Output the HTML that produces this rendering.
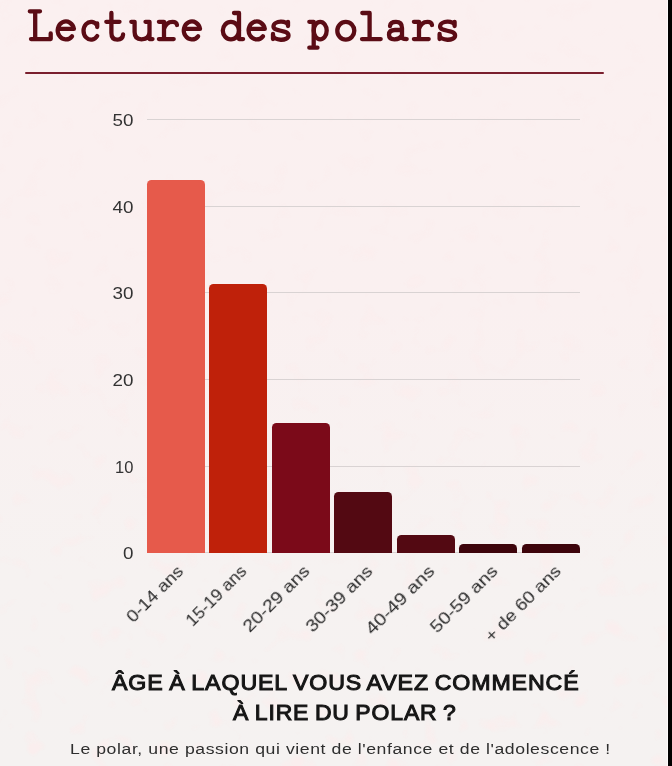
<!DOCTYPE html>
<html><head><meta charset="utf-8">
<style>
html,body{margin:0;padding:0;}
body{width:672px;height:766px;overflow:hidden;position:relative;background:linear-gradient(180deg,#fbf0f0 0%,#faf0f0 40%,#f6f2f1 75%,#f5f2f1 100%);font-family:"Liberation Sans",sans-serif;}
#strip{position:absolute;left:668px;top:0;width:4px;height:766px;background:#000;}

#rule{position:absolute;left:24.7px;top:71.6px;width:579.4px;height:2px;background:#7a1f2e;border-radius:1px;}
.grid{position:absolute;left:146.5px;width:433.5px;height:1px;background:#d9d3d3;}
.yl{position:absolute;left:90px;width:43.4px;text-align:right;font-size:16.5px;color:#333;line-height:16px;transform:scaleX(1.14);transform-origin:100% 50%;will-change:transform;}
.bar{position:absolute;width:58px;border-radius:4.5px 4.5px 0 0;}
.xl{position:absolute;font-size:16.5px;color:#2b2b2b;white-space:nowrap;transform-origin:100% 50%;text-align:right;line-height:16px;will-change:transform;}
.h{position:absolute;white-space:nowrap;font-size:21.2px;line-height:24px;color:#151515;-webkit-text-stroke:1px #151515;letter-spacing:0.8px;word-spacing:-1.5px;transform-origin:0 50%;will-change:transform;}
#sub{position:absolute;white-space:nowrap;left:70px;top:740px;font-size:15.5px;color:#2e2e2e;line-height:18px;letter-spacing:0.51px;transform:scaleX(1.137);transform-origin:0 50%;will-change:transform;}
</style></head><body>
<svg width="668" height="766" style="position:absolute;left:0;top:0"><defs>
<filter id="nz" x="0" y="0" width="100%" height="100%" color-interpolation-filters="sRGB"><feTurbulence type="fractalNoise" baseFrequency="0.045" numOctaves="2" seed="11"/><feColorMatrix type="matrix" values="0 0 0 0 1  0 0 0 0 0.92  0 0 0 0 0.92  5 0 0 0 -3.0"/></filter>
<linearGradient id="fade" x1="0" y1="0" x2="0" y2="1"><stop offset="0" stop-color="#fff" stop-opacity="0.12"/><stop offset="0.5" stop-color="#fff" stop-opacity="0.3"/><stop offset="1" stop-color="#fff" stop-opacity="0.5"/></linearGradient>
<mask id="mk"><rect width="668" height="766" fill="url(#fade)"/></mask></defs>
<g mask="url(#mk)"><rect width="668" height="766" filter="url(#nz)"/></g></svg>
<div id="strip"></div><div style="position:absolute;left:667px;top:0;width:1px;height:766px;background:#fdfbfb"></div>
<svg id="title" width="672" height="60" viewBox="0 0 672 60" style="position:absolute;left:0;top:0" fill="none" stroke="#5b0c15" stroke-width="4.3" stroke-linecap="round" stroke-linejoin="round">
<defs>
<g id="gE"><path d="M2.4,9.4 H18.5 A8.15,8.95 0 1 0 16.6,16.8"/></g>
<g id="gR"><path d="M2.3,2.3 H7.4 V19.6 M2.3,19.6 H17.1 M7.4,9.5 Q9.4,2.3 15.9,2.3 Q19.9,2.3 20.4,5.5"/></g>
<g id="gS"><path d="M17.4,6 C17.4,0.8 2.9,0.8 2.9,7 C2.9,12.5 17.9,10 17.9,16 C17.9,22 2.4,21.5 2.4,15.5 M17.4,2.3 V6.5 M2.4,14.5 V19.6"/></g>
</defs>
<path d="M29.8,11.3 H40 M35.2,11.3 V39.1 M31,39.1 H50.7 V33.5"/>
<use href="#gE" x="55.4" y="19.5"/>
<path d="M97.2,27 V23.5 M97.2,25.5 A7.55,8.95 0 1 0 97.2,36"/>
<path d="M111.4,13 V33 Q111.4,39.6 117.5,39.6 Q122.6,39.6 123.1,34.5 M106.3,21.8 H119.5"/>
<path d="M131.3,21.8 H134.6 V32 Q134.6,39.3 141.5,39.3 Q149.5,39.3 149.5,32 M145.5,21.8 H149.5 V39.1 H152.5"/>
<use href="#gR" x="156.6" y="19.5"/>
<use href="#gE" x="181.5" y="19.5"/>
<path d="M234,13 H239 V39.1 H243.1"/><ellipse cx="230.9" cy="30.6" rx="8.1" ry="8.7"/>
<use href="#gE" x="246.3" y="19.5"/>
<use href="#gS" x="270.6" y="19.5"/>
<path d="M309.3,21.8 H313.7 V47.7 M309.3,47.7 H317.5"/><ellipse cx="320.2" cy="30.6" rx="6.5" ry="8.7"/>
<ellipse cx="345.8" cy="30.75" rx="8.5" ry="8.95"/>
<path d="M362.3,13 H369.6 V39.1 M362,39.1 H380.7"/>
<path d="M390,26 Q390.5,21.9 396,21.9 Q402,21.9 402,28 V37 Q402,39.1 406.7,39.1 M402,30 H395 Q389,30 389,34.8 Q389,39.3 394.5,39.3 Q400,39.3 402,35"/>
<use href="#gR" x="411.6" y="19.5"/>
<use href="#gS" x="437.2" y="19.5"/>
</svg>
<div id="rule"></div>
<div class="grid" style="top:119.00px"></div>
<div class="grid" style="top:205.64px"></div>
<div class="grid" style="top:292.28px"></div>
<div class="grid" style="top:378.92px"></div>
<div class="grid" style="top:465.56px"></div>
<div class="grid" style="top:552.20px"></div>
<div class="yl" style="top:112.00px">50</div>
<div class="yl" style="top:198.64px">40</div>
<div class="yl" style="top:285.28px">30</div>
<div class="yl" style="top:371.92px">20</div>
<div class="yl" style="top:458.56px;transform:scaleX(1.0)">10</div>
<div class="yl" style="top:545.20px">0</div>
<div class="bar" style="left:146.50px;top:180.15px;height:373.35px;background:#e65a4b"></div>
<div class="bar" style="left:209.07px;top:284.12px;height:269.38px;background:#bf210a"></div>
<div class="bar" style="left:271.64px;top:422.74px;height:130.76px;background:#7b0a19"></div>
<div class="bar" style="left:334.21px;top:492.05px;height:61.45px;background:#530912"></div>
<div class="bar" style="left:396.78px;top:535.37px;height:18.13px;background:#530912"></div>
<div class="bar" style="left:459.35px;top:544.04px;height:9.46px;background:#3d040b"></div>
<div class="bar" style="left:521.92px;top:544.04px;height:9.46px;background:#3d040b"></div>
<div class="xl" style="right:491.50px;top:559.90px;transform:rotate(-45deg) scaleX(1.128)">0-14 ans</div>
<div class="xl" style="right:429.00px;top:559.90px;transform:rotate(-45deg) scaleX(1.059)">15-19 ans</div>
<div class="xl" style="right:365.75px;top:560.10px;transform:rotate(-45deg) scaleX(1.173)">20-29 ans</div>
<div class="xl" style="right:303.10px;top:560.00px;transform:rotate(-45deg) scaleX(1.175)">30-39 ans</div>
<div class="xl" style="right:241.00px;top:560.10px;transform:rotate(-45deg) scaleX(1.220)">40-49 ans</div>
<div class="xl" style="right:177.50px;top:560.10px;transform:rotate(-45deg) scaleX(1.188)">50-59 ans</div>
<div class="xl" style="right:114.00px;top:560.10px;transform:rotate(-45deg) scaleX(1.150)">+ de 60 ans</div>
<div class="h" style="left:112px;top:670.8px;transform:scaleX(1.095)">ÂGE À LAQUEL VOUS AVEZ COMMENCÉ</div>
<div class="h" style="left:233.4px;top:701.4px;transform:scaleX(1.083)">À LIRE DU POLAR ?</div>
<div id="sub">Le polar, une passion qui vient de l'enfance et de l'adolescence !</div>
</body></html>
